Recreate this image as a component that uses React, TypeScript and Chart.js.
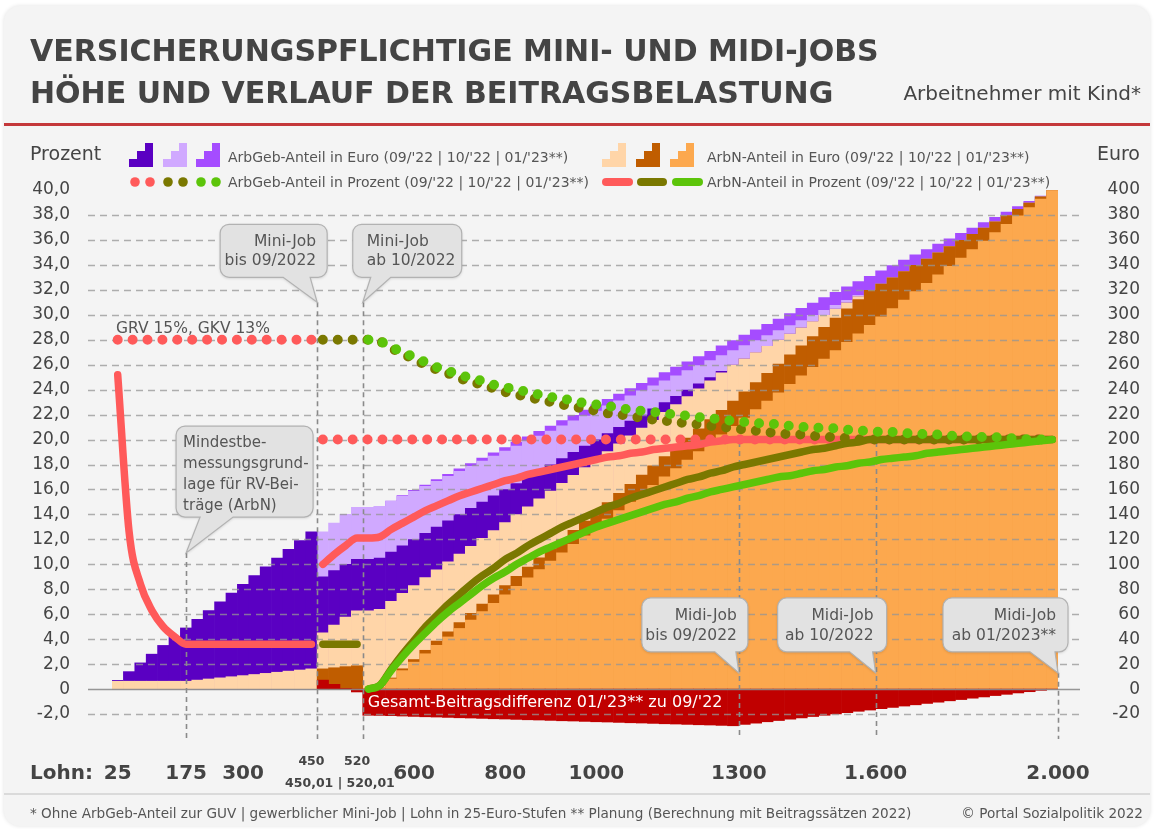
import React, { useEffect, useRef } from 'react';
import { Chart, registerables } from 'chart.js';

Chart.register(...registerables);

const W = 1155;
const H = 829;
const FONT = '"DejaVu Sans", Verdana, sans-serif';
const N = null;

// ---------- categories (Lohn in 25-Euro-Stufen) ----------
const lohnLabels = [
  '25', '50', '75', '100', '125', '150', '175', '200', '225', '250', '275', '300', '325', '350', '375', '400', '425', '450',
  '450,01', '475', '500', '520', '520,01', '525',
  '550', '575', '600', '625', '650', '675', '700', '725', '750', '775', '800', '825', '850', '875', '900', '925', '950', '975',
  '1000', '1025', '1050', '1075', '1100', '1125', '1150', '1175', '1200', '1225', '1250', '1275', '1300',
  '1325', '1350', '1375', '1400', '1425', '1450', '1475', '1500', '1525', '1550', '1575', '1600',
  '1625', '1650', '1675', '1700', '1725', '1750', '1775', '1800', '1825', '1850', '1875', '1900', '1925', '1950', '1975', '2000',
];

// ---------- Euro values (right axis) ----------
const arbNEuro0922 = [
  6.3, 6.3, 6.3, 6.3, 6.3, 6.3, 6.3, 7.2, 8.1, 9.0, 9.9, 10.8, 11.7, 12.6, 13.5, 14.4, 15.3, 16.2,
  45.1, 51.4, 57.7, 62.8, 62.8, 64.0,
  70.3, 76.7, 83.0, 89.3, 95.6, 101.9, 108.2, 114.5, 120.8, 127.1, 133.5, 139.8, 146.1, 152.4, 158.7, 165.0, 171.3, 177.6,
  183.9, 190.3, 196.6, 202.9, 209.2, 215.5, 221.8, 228.1, 234.4, 240.7, 247.1, 253.4, 259.7,
  264.7, 269.7, 274.7, 279.7, 284.6, 289.6, 294.6, 299.6, 304.6, 309.6, 314.6, 319.6,
  324.6, 329.6, 334.6, 339.6, 344.6, 349.6, 354.6, 359.6, 364.5, 369.5, 374.5, 379.5, 384.5, 389.5, 394.5, 399.5,
];
const arbNEuro1022 = [
  N, N, N, N, N, N, N, N, N, N, N, N, N, N, N, N, N, N,
  16.2, 17.1, 18.0, 18.7, 0, 1.5,
  8.9, 16.3, 23.7, 31.1, 38.5, 45.9, 53.3, 60.7, 68.1, 75.5, 82.9, 90.3, 97.7, 105.1, 112.5, 119.9, 127.3, 134.7,
  142.0, 149.4, 156.8, 164.2, 171.6, 179.0, 186.4, 193.8, 201.2, 208.6, 216.0, 223.4, 230.8,
  238.2, 245.6, 253.0, 260.4, 267.8, 275.2, 282.6, 290.0, 297.4, 304.8, 312.2, 319.6,
  324.6, 329.6, 334.6, 339.6, 344.6, 349.6, 354.6, 359.6, 364.5, 369.5, 374.5, 379.5, 384.5, 389.5, 394.5, 399.5,
];
const arbNEuro0123 = [
  N, N, N, N, N, N, N, N, N, N, N, N, N, N, N, N, N, N,
  N, N, N, N, 0, 1.3,
  8.1, 14.8, 21.6, 28.3, 35.1, 41.8, 48.6, 55.3, 62.1, 68.8, 75.6, 82.3, 89.1, 95.8, 102.6, 109.3, 116.1, 122.8,
  129.6, 136.3, 143.1, 149.8, 156.6, 163.3, 170.1, 176.8, 183.6, 190.3, 197.0, 203.8, 210.5,
  217.3, 224.0, 230.8, 237.5, 244.3, 251.0, 257.8, 264.5, 271.3, 278.0, 284.8, 291.5,
  298.3, 305.0, 311.8, 318.5, 325.3, 332.0, 338.8, 345.5, 352.3, 359.0, 365.8, 372.5, 379.3, 386.0, 392.8, 399.5,
];
const arbGebEuro0922 = [
  7, 14, 21, 28, 35, 42, 49, 56, 63, 70, 77, 84, 91, 98, 105, 112, 119, 126,
  89.9, 94.9, 99.9, 103.9, 103.9, 104.9,
  109.9, 114.9, 119.9, 124.8, 129.8, 134.8, 139.8, 144.8, 149.8, 154.8, 159.8, 164.8, 169.8, 174.8, 179.8, 184.8, 189.8, 194.8,
  199.8, 204.7, 209.7, 214.7, 219.7, 224.7, 229.7, 234.7, 239.7, 244.7, 249.7, 254.7, 259.7,
  264.7, 269.7, 274.7, 279.7, 284.6, 289.6, 294.6, 299.6, 304.6, 309.6, 314.6, 319.6,
  324.6, 329.6, 334.6, 339.6, 344.6, 349.6, 354.6, 359.6, 364.5, 369.5, 374.5, 379.5, 384.5, 389.5, 394.5, 399.5,
];
const arbGebEuro1022 = [
  N, N, N, N, N, N, N, N, N, N, N, N, N, N, N, N, N, N,
  126.0, 133.0, 140.0, 145.6, 145.6, 146.4,
  150.4, 154.5, 158.5, 162.5, 166.5, 170.6, 174.6, 178.6, 182.7, 186.7, 190.7, 194.7, 198.8, 202.8, 206.8, 210.9, 214.9, 218.9,
  222.9, 227.0, 231.0, 235.0, 239.0, 243.1, 247.1, 251.1, 255.2, 259.2, 263.2, 267.2, 271.3,
  275.3, 279.3, 283.3, 287.4, 291.4, 295.4, 299.5, 303.5, 307.5, 311.5, 315.6, 319.6,
  324.6, 329.6, 334.6, 339.6, 344.6, 349.6, 354.6, 359.6, 364.5, 369.5, 374.5, 379.5, 384.5, 389.5, 394.5, 399.5,
];
const arbGebEuro0123 = [
  N, N, N, N, N, N, N, N, N, N, N, N, N, N, N, N, N, N,
  N, N, N, N, 145.6, 146.5,
  150.7, 155.0, 159.3, 163.6, 167.9, 172.2, 176.5, 180.8, 185.1, 189.3, 193.6, 197.9, 202.2, 206.5, 210.8, 215.1, 219.4, 223.7,
  227.9, 232.2, 236.5, 240.8, 245.1, 249.4, 253.7, 258.0, 262.3, 266.5, 270.8, 275.1, 279.4,
  283.7, 288.0, 292.3, 296.6, 300.9, 305.2, 309.4, 313.7, 318.0, 322.3, 326.6, 330.9,
  335.2, 339.5, 343.8, 348.0, 352.3, 356.6, 360.9, 365.2, 369.5, 373.8, 378.1, 382.4, 386.7, 390.9, 395.2, 399.5,
];
// Gesamt-Beitragsdifferenz 01/'23 zu 09/'22 (Euro)
const diffEuro = [
  N, N, N, N, N, N, N, N, N, N, N, N, N, N, N, N, N, N,
  7.2, 3.8, 0.4, -2.3, -21.0, -21.1,
  -21.3, -21.6, -21.9, -22.2, -22.4, -22.7, -23.0, -23.2, -23.5, -23.8, -24.0, -24.3, -24.6, -24.8, -25.1, -25.4, -25.6, -25.9,
  -26.2, -26.4, -26.7, -27.0, -27.2, -27.5, -27.8, -28.0, -28.3, -28.6, -28.8, -29.1, -29.4,
  -28.3, -27.3, -26.2, -25.2, -24.1, -23.1, -22.0, -21.0, -19.9, -18.9, -17.8, -16.8,
  -15.7, -14.7, -13.6, -12.6, -11.5, -10.5, -9.4, -8.4, -7.3, -6.3, -5.2, -4.2, -3.1, -2.1, -1.0, 0,
];

// ---------- percent values (left axis) ----------
const arbNPct0922 = [
  25.2, 12.6, 8.4, 6.3, 5.0, 4.2, 3.6, 3.6, 3.6, 3.6, 3.6, 3.6, 3.6, 3.6, 3.6, 3.6, 3.6, 3.6,
  10.0, 10.8, 11.5, 12.1, 12.1, 12.2,
  12.8, 13.3, 13.8, 14.3, 14.7, 15.1, 15.5, 15.8, 16.1, 16.4, 16.7, 16.9, 17.2, 17.4, 17.6, 17.8, 18.0, 18.2,
  18.4, 18.6, 18.7, 18.9, 19.0, 19.2, 19.3, 19.4, 19.5, 19.6, 19.8, 19.9, 20.0,
  20.0, 20.0, 20.0, 20.0, 20.0, 20.0, 20.0, 20.0, 20.0, 20.0, 20.0, 20.0,
  20.0, 20.0, 20.0, 20.0, 20.0, 20.0, 20.0, 20.0, 20.0, 20.0, 20.0, 20.0, 20.0, 20.0, 20.0, 20.0,
];
const arbNPct1022 = [
  N, N, N, N, N, N, N, N, N, N, N, N, N, N, N, N, N, N,
  3.6, 3.6, 3.6, 3.6, 0, 0.3,
  1.6, 2.8, 3.9, 5.0, 5.9, 6.8, 7.6, 8.4, 9.1, 9.7, 10.4, 10.9, 11.5, 12.0, 12.5, 13.0, 13.4, 13.8,
  14.2, 14.6, 14.9, 15.3, 15.6, 15.9, 16.2, 16.5, 16.8, 17.0, 17.3, 17.5, 17.8,
  18.0, 18.2, 18.4, 18.6, 18.8, 19.0, 19.2, 19.3, 19.5, 19.7, 19.8, 20.0,
  20.0, 20.0, 20.0, 20.0, 20.0, 20.0, 20.0, 20.0, 20.0, 20.0, 20.0, 20.0, 20.0, 20.0, 20.0, 20.0,
];
const arbNPct0123 = [
  N, N, N, N, N, N, N, N, N, N, N, N, N, N, N, N, N, N,
  N, N, N, N, 0, 0.3,
  1.5, 2.6, 3.6, 4.5, 5.4, 6.2, 6.9, 7.6, 8.3, 8.9, 9.4, 10.0, 10.5, 11.0, 11.4, 11.8, 12.2, 12.6,
  13.0, 13.3, 13.6, 13.9, 14.2, 14.5, 14.8, 15.0, 15.3, 15.5, 15.8, 16.0, 16.2,
  16.4, 16.6, 16.8, 17.0, 17.1, 17.3, 17.5, 17.6, 17.8, 17.9, 18.1, 18.2,
  18.4, 18.5, 18.6, 18.7, 18.9, 19.0, 19.1, 19.2, 19.3, 19.4, 19.5, 19.6, 19.7, 19.8, 19.9, 20.0,
];
const arbGebPct0922 = [
  28, 28, 28, 28, 28, 28, 28, 28, 28, 28, 28, 28, 28, 28, 28, 28, 28, 28,
  20, 20, 20, 20, 20, 20,
  20, 20, 20, 20, 20, 20, 20, 20, 20, 20, 20, 20, 20, 20, 20, 20, 20, 20,
  20, 20, 20, 20, 20, 20, 20, 20, 20, 20, 20, 20, 20,
  20, 20, 20, 20, 20, 20, 20, 20, 20, 20, 20, 20,
  20, 20, 20, 20, 20, 20, 20, 20, 20, 20, 20, 20, 20, 20, 20, 20,
];
const arbGebPct1022 = [
  N, N, N, N, N, N, N, N, N, N, N, N, N, N, N, N, N, N,
  28, 28, 28, 28, 28.0, 27.9,
  27.3, 26.9, 26.4, 26.0, 25.6, 25.3, 24.9, 24.6, 24.4, 24.1, 23.8, 23.6, 23.4, 23.2, 23.0, 22.8, 22.6, 22.5,
  22.3, 22.1, 22.0, 21.9, 21.7, 21.6, 21.5, 21.4, 21.3, 21.2, 21.1, 21.0, 20.9,
  20.8, 20.7, 20.6, 20.5, 20.4, 20.4, 20.3, 20.2, 20.2, 20.1, 20.0, 20.0,
  20.0, 20.0, 20.0, 20.0, 20.0, 20.0, 20.0, 20.0, 20.0, 20.0, 20.0, 20.0, 20.0, 20.0, 20.0, 20.0,
];
const arbGebPct0123 = [
  N, N, N, N, N, N, N, N, N, N, N, N, N, N, N, N, N, N,
  N, N, N, N, 28.0, 27.9,
  27.4, 27.0, 26.6, 26.2, 25.8, 25.5, 25.2, 24.9, 24.7, 24.4, 24.2, 24.0, 23.8, 23.6, 23.4, 23.3, 23.1, 22.9,
  22.8, 22.7, 22.5, 22.4, 22.3, 22.2, 22.1, 22.0, 21.9, 21.8, 21.7, 21.6, 21.5,
  21.4, 21.3, 21.3, 21.2, 21.1, 21.0, 21.0, 20.9, 20.9, 20.8, 20.7, 20.7,
  20.6, 20.6, 20.5, 20.5, 20.4, 20.4, 20.3, 20.3, 20.2, 20.2, 20.2, 20.1, 20.1, 20.0, 20.0, 20.0,
];

// ---------- axis ticks ----------
const pctTicks = [-2, 0, 2, 4, 6, 8, 10, 12, 14, 16, 18, 20, 22, 24, 26, 28, 30, 32, 34, 36, 38, 40];
const euroTicks = [-20, 0, 20, 40, 60, 80, 100, 120, 140, 160, 180, 200, 220, 240, 260, 280, 300, 320, 340, 360, 380, 400];
const lohnTickLabels = [
  { i: 0, text: '25' }, { i: 6, text: '175' }, { i: 11, text: '300' }, { i: 26, text: '600' },
  { i: 34, text: '800' }, { i: 42, text: '1000' }, { i: 54, text: '1300', edge: 0.5 },
  { i: 66, text: '1.600', edge: 0.5 }, { i: 82, text: '2.000', edge: 0.5 },
];

// ---------- colours ----------
const C = {
  purpleDark: '#5a00c2', lavender: '#d0a9ff', purpleMid: '#a54cff',
  peach: '#ffd5a8', brown: '#c05d00', orange: '#fca84e', diff: '#c00000',
  red: '#ff5a5a', olive: '#7a7800', green: '#5cc40a',
  text: '#444444', soft: '#555555',
};

// ---------- annotations ----------
const vLines = [
  { i: 6, edge: 0, from: 10.9 }, { i: 17, edge: 0.5, from: 31 }, { i: 21, edge: 0.5, from: 31 },
  { i: 54, edge: 0.5, from: 19.8 }, { i: 66, edge: 0.5, from: 19.8 }, { i: 82, edge: 0.5, from: 1.3 },
];
const callouts = [
  { lines: ['Mini-Job', 'bis 09/2022'], i: 17, edge: 0.5, at: 31, box: [-97, -78, 10, -25], ptr: [-34, -7], align: 'right', pad: 11, ly: [22, 41], size: 15.5 },
  { lines: ['Mini-Job', 'ab 10/2022'], i: 21, edge: 0.5, at: 31, box: [-10, -78, 99, -25], ptr: [8, 28], align: 'left', pad: 14, ly: [22, 41], size: 15.5 },
  { lines: ['Mindestbe-', 'messungsgrund-', 'lage für RV-Bei-', 'träge (ArbN)'], i: 6, edge: 0, at: 10.9, box: [-10, -127, 127, -36], ptr: [14, 47], align: 'left', pad: 7, ly: [21, 42, 63, 84], size: 15 },
  { lines: ['Midi-Job', 'bis 09/2022'], i: 54, edge: 0.5, at: 1.3, box: [-97, -75, 9, -21], ptr: [-24, -3], align: 'right', pad: 11, ly: [22, 42], size: 15.5 },
  { lines: ['Midi-Job', 'ab 10/2022'], i: 66, edge: 0.5, at: 1.3, box: [-98, -75, 11, -21], ptr: [-26, -3], align: 'right', pad: 13, ly: [22, 42], size: 15.5 },
  { lines: ['Midi-Job', 'ab 01/2023**'], i: 82, edge: 0.5, at: 1.3, box: [-115, -75, 10, -21], ptr: [-28, -3], align: 'right', pad: 12, ly: [22, 42], size: 15.5 },
];

const seg = (arr: (number | null)[], a: number, b: number) => arr.map((v, i) => (i >= a && i <= b ? v : null));

const GRID_L = 88;
const GRID_R = 1080;

function catX(chart: any, i: number, edge = 0) {
  const xs = chart.scales.x;
  const cw = xs.getPixelForValue(1) - xs.getPixelForValue(0);
  return xs.getPixelForValue(i) + edge * cw;
}

function drawCallout(ctx: CanvasRenderingContext2D, tx: number, ty: number, c: any) {
  const x0 = tx + c.box[0], y0 = ty + c.box[1], x1 = tx + c.box[2], y1 = ty + c.box[3];
  const p0 = tx + c.ptr[0], p1 = tx + c.ptr[1];
  const r = 9;
  ctx.save();
  ctx.beginPath();
  ctx.moveTo(x0 + r, y0);
  ctx.lineTo(x1 - r, y0);
  ctx.arcTo(x1, y0, x1, y0 + r, r);
  ctx.lineTo(x1, y1 - r);
  ctx.arcTo(x1, y1, x1 - r, y1, r);
  ctx.lineTo(p1, y1);
  ctx.lineTo(tx, ty);
  ctx.lineTo(p0, y1);
  ctx.lineTo(x0 + r, y1);
  ctx.arcTo(x0, y1, x0, y1 - r, r);
  ctx.lineTo(x0, y0 + r);
  ctx.arcTo(x0, y0, x0 + r, y0, r);
  ctx.closePath();
  ctx.shadowColor = 'rgba(0,0,0,0.18)';
  ctx.shadowBlur = 3;
  ctx.shadowOffsetY = 1;
  ctx.fillStyle = '#e2e2e2';
  ctx.fill();
  ctx.shadowColor = 'transparent';
  ctx.strokeStyle = '#b2b2b2';
  ctx.lineWidth = 1.2;
  ctx.stroke();
  ctx.fillStyle = C.soft;
  ctx.font = `${c.size}px ${FONT}`;
  ctx.textBaseline = 'alphabetic';
  ctx.textAlign = c.align;
  const tx2 = c.align === 'right' ? x1 - c.pad : x0 + c.pad;
  c.lines.forEach((t: string, k: number) => ctx.fillText(t, tx2, y0 + c.ly[k]));
  ctx.restore();
}

const overlayPlugin = {
  id: 'overlay',
  afterDatasetDraw(chart: any, args: any) {
    if (args.index !== 0) return;
    const ctx = chart.ctx;
    const ys = chart.scales.y;
    ctx.save();
    // horizontal grid
    ctx.lineWidth = 1.3;
    ctx.strokeStyle = 'rgba(150,150,150,0.75)';
    ctx.setLineDash([7, 5]);
    for (const v of pctTicks) {
      if (v === 0 || v === 40) continue;
      const y = Math.round(ys.getPixelForValue(v)) + 0.5;
      ctx.beginPath();
      ctx.moveTo(GRID_L, y);
      ctx.lineTo(GRID_R, y);
      ctx.stroke();
    }
    // zero line
    ctx.setLineDash([]);
    ctx.strokeStyle = 'rgba(140,140,140,0.9)';
    const y0 = Math.round(ys.getPixelForValue(0)) + 0.5;
    ctx.beginPath();
    ctx.moveTo(GRID_L, y0);
    ctx.lineTo(GRID_R, y0);
    ctx.stroke();
    // vertical dashed markers
    ctx.setLineDash([5, 4]);
    ctx.lineWidth = 1.6;
    ctx.strokeStyle = '#8a8a8a';
    for (const l of vLines) {
      const x = Math.round(catX(chart, l.i, l.edge)) + 0.5;
      ctx.beginPath();
      ctx.moveTo(x, ys.getPixelForValue(l.from));
      ctx.lineTo(x, chart.chartArea.bottom);
      ctx.stroke();
    }
    ctx.restore();
  },
  afterDatasetsDraw(chart: any) {
    const ctx = chart.ctx;
    const ys = chart.scales.y;
    for (const c of callouts) {
      drawCallout(ctx, catX(chart, c.i, c.edge), ys.getPixelForValue(c.at), c);
    }
    ctx.save();
    ctx.textBaseline = 'alphabetic';
    ctx.textAlign = 'left';
    ctx.font = `15.5px ${FONT}`;
    ctx.fillStyle = C.soft;
    ctx.fillText('GRV 15%, GKV 13%', 116, 333);
    ctx.font = `16px ${FONT}`;
    ctx.fillStyle = '#ffffff';
    ctx.fillText("Gesamt-Beitragsdifferenz 01/'23** zu 09/'22", catX(chart, 22, -0.5) + 5, 707);
    ctx.restore();
  },
  afterDraw(chart: any) {
    const ctx = chart.ctx;
    const ys = chart.scales.y;
    ctx.save();
    // y tick labels
    ctx.font = `17px ${FONT}`;
    ctx.fillStyle = C.text;
    ctx.textBaseline = 'middle';
    pctTicks.forEach((v, k) => {
      const y = ys.getPixelForValue(v);
      ctx.textAlign = 'right';
      ctx.fillText(v === 0 ? '0' : v.toFixed(1).replace('.', ','), 70, y);
      ctx.fillText(String(euroTicks[k]), 1140, y);
    });
    // x labels
    ctx.textBaseline = 'alphabetic';
    ctx.font = `bold 20px ${FONT}`;
    ctx.textAlign = 'left';
    ctx.fillText('Lohn:', 30, 779);
    ctx.textAlign = 'center';
    for (const t of lohnTickLabels) {
      ctx.fillText(t.text, catX(chart, t.i, t.edge || 0), 779);
    }
    ctx.font = `bold 12.5px ${FONT}`;
    ctx.fillText('450', catX(chart, 17), 765);
    ctx.fillText('520', catX(chart, 21), 765);
    ctx.fillText('450,01 | 520,01', (catX(chart, 17, 0.5) + catX(chart, 21, 0.5)) / 2, 787);
    // legend icons
    const stepIcon = (x: number, color: string) => {
      ctx.fillStyle = color;
      for (let k = 0; k < 3; k++) ctx.fillRect(x + k * 8, 167 - (k + 1) * 8, 8, (k + 1) * 8);
    };
    stepIcon(129, C.purpleDark);
    stepIcon(163, C.lavender);
    stepIcon(196, C.purpleMid);
    stepIcon(602, C.peach);
    stepIcon(636, C.brown);
    stepIcon(670, C.orange);
    const dot = (x: number, color: string) => {
      ctx.fillStyle = color;
      ctx.beginPath();
      ctx.arc(x, 182, 4.8, 0, Math.PI * 2);
      ctx.fill();
    };
    dot(135, C.red); dot(150, C.red);
    dot(168, C.olive); dot(183, C.olive);
    dot(201, C.green); dot(216, C.green);
    const pill = (x0: number, x1: number, color: string) => {
      ctx.strokeStyle = color;
      ctx.lineWidth = 8;
      ctx.lineCap = 'round';
      ctx.beginPath();
      ctx.moveTo(x0 + 4, 182);
      ctx.lineTo(x1 - 4, 182);
      ctx.stroke();
    };
    pill(602, 633, C.red);
    pill(637, 667, C.olive);
    pill(672, 703, C.green);
    ctx.restore();
  },
};

function Txt(props: any) {
  const { x, y, size, bold, color, align, children } = props;
  const style: any = {
    position: 'absolute',
    top: y - 0.846 * size,
    fontSize: size,
    lineHeight: `${size}px`,
    fontFamily: FONT,
    fontWeight: bold ? 'bold' : 'normal',
    color: color || C.text,
    whiteSpace: 'nowrap',
  };
  if (align === 'right') style.right = W - x;
  else style.left = x;
  return <div style={style}>{children}</div>;
}

export default function App() {
  const ref = useRef<HTMLCanvasElement>(null);

  useEffect(() => {
    document.body.style.margin = '0';
    const bar = (data: any, color: string, order: number) => ({
      type: 'bar', data, backgroundColor: color, yAxisID: 'y1', order,
      grouped: false, categoryPercentage: 1, barPercentage: 1, borderWidth: 0,
    });
    const solid = (data: any, color: string, order: number) => ({
      type: 'line', data, borderColor: color, borderWidth: 7.5, borderCapStyle: 'round', borderJoinStyle: 'round',
      cubicInterpolationMode: 'monotone', pointRadius: 0, yAxisID: 'y', order, spanGaps: false,
    });
    const dotted = (data: any, color: string, order: number) => ({
      type: 'line', data, borderColor: color, borderWidth: 10, borderDash: [0, 14.9], borderCapStyle: 'round',
      tension: 0, pointRadius: 0, yAxisID: 'y', order, spanGaps: false,
    });
    const chart = new Chart(ref.current as HTMLCanvasElement, {
      type: 'bar',
      data: {
        labels: lohnLabels,
        datasets: [
          bar(diffEuro, C.diff, 10),
          bar(arbNEuro0123, C.orange, 11),
          bar(arbNEuro1022, C.brown, 12),
          bar(arbNEuro0922, C.peach, 13),
          bar(arbGebEuro0922, C.purpleDark, 14),
          bar(arbGebEuro1022, C.lavender, 15),
          bar(arbGebEuro0123, C.purpleMid, 16),
          dotted(arbGebPct0123, C.green, 1),
          solid(arbNPct0123, C.green, 2),
          dotted(arbGebPct1022, C.olive, 3),
          solid(seg(arbNPct1022, 18, 21), C.olive, 4),
          solid(seg(arbNPct1022, 22, 82), C.olive, 4),
          solid(seg(arbNPct0922, 0, 17), C.red, 5),
          solid(seg(arbNPct0922, 18, 82), C.red, 5),
          dotted(seg(arbGebPct0922, 0, 17), C.red, 6),
          dotted(seg(arbGebPct0922, 18, 82), C.red, 6),
        ] as any,
      },
      options: {
        responsive: false,
        animation: false,
        devicePixelRatio: 1,
        events: [],
        layout: { padding: { left: 112, right: 97, top: 190, bottom: 90 } },
        plugins: { legend: { display: false }, tooltip: { enabled: false }, title: { display: false } },
        scales: {
          x: { type: 'category', display: false, offset: true, grid: { display: false } },
          y: { type: 'linear', display: false, min: -4, max: 40, position: 'left' },
          y1: { type: 'linear', display: false, min: -40, max: 400, position: 'right' },
        },
      } as any,
      plugins: [overlayPlugin as any],
    });
    return () => chart.destroy();
  }, []);

  return (
    <div style={{ position: 'fixed', left: 0, top: 0, width: W, height: H, background: '#ffffff', overflow: 'hidden' }}>
      <div style={{ position: 'absolute', left: 4, top: 6, width: 1146, height: 820, background: '#f4f4f4', borderRadius: 16, boxShadow: '0 0 4px rgba(0,0,0,0.12)' }} />
      <div style={{ position: 'absolute', left: 4, top: 123, width: 1146, height: 3, background: '#c4383a' }} />
      <div style={{ position: 'absolute', left: 4, top: 793, width: 1146, height: 2, background: '#dadada' }} />
      <canvas ref={ref} width={W} height={H} style={{ position: 'absolute', left: 0, top: 0, width: W, height: H }} />
      <Txt x={30} y={61} size={30} bold>VERSICHERUNGSPFLICHTIGE MINI- UND MIDI-JOBS</Txt>
      <Txt x={30} y={103} size={30} bold>HÖHE UND VERLAUF DER BEITRAGSBELASTUNG</Txt>
      <Txt x={1141} y={100} size={20} align="right">Arbeitnehmer mit Kind*</Txt>
      <Txt x={30} y={160} size={19}>Prozent</Txt>
      <Txt x={1140} y={160} size={19} align="right">Euro</Txt>
      <Txt x={228} y={162} size={14} color={C.soft}>ArbGeb-Anteil in Euro (09/'22 | 10/'22 | 01/'23**)</Txt>
      <Txt x={228} y={187} size={14} color={C.soft}>ArbGeb-Anteil in Prozent (09/'22 | 10/'22 | 01/'23**)</Txt>
      <Txt x={707} y={162} size={14} color={C.soft}>ArbN-Anteil in Euro (09/'22 | 10/'22 | 01/'23**)</Txt>
      <Txt x={707} y={187} size={14} color={C.soft}>ArbN-Anteil in Prozent (09/'22 | 10/'22 | 01/'23**)</Txt>
      <Txt x={30} y={819} size={13.6} color={C.soft}>* Ohne ArbGeb-Anteil zur GUV | gewerblicher Mini-Job | Lohn in 25-Euro-Stufen ** Planung (Berechnung mit Beitragssätzen 2022)</Txt>
      <Txt x={1143} y={819} size={13.6} color={C.soft} align="right">© Portal Sozialpolitik 2022</Txt>
    </div>
  );
}
